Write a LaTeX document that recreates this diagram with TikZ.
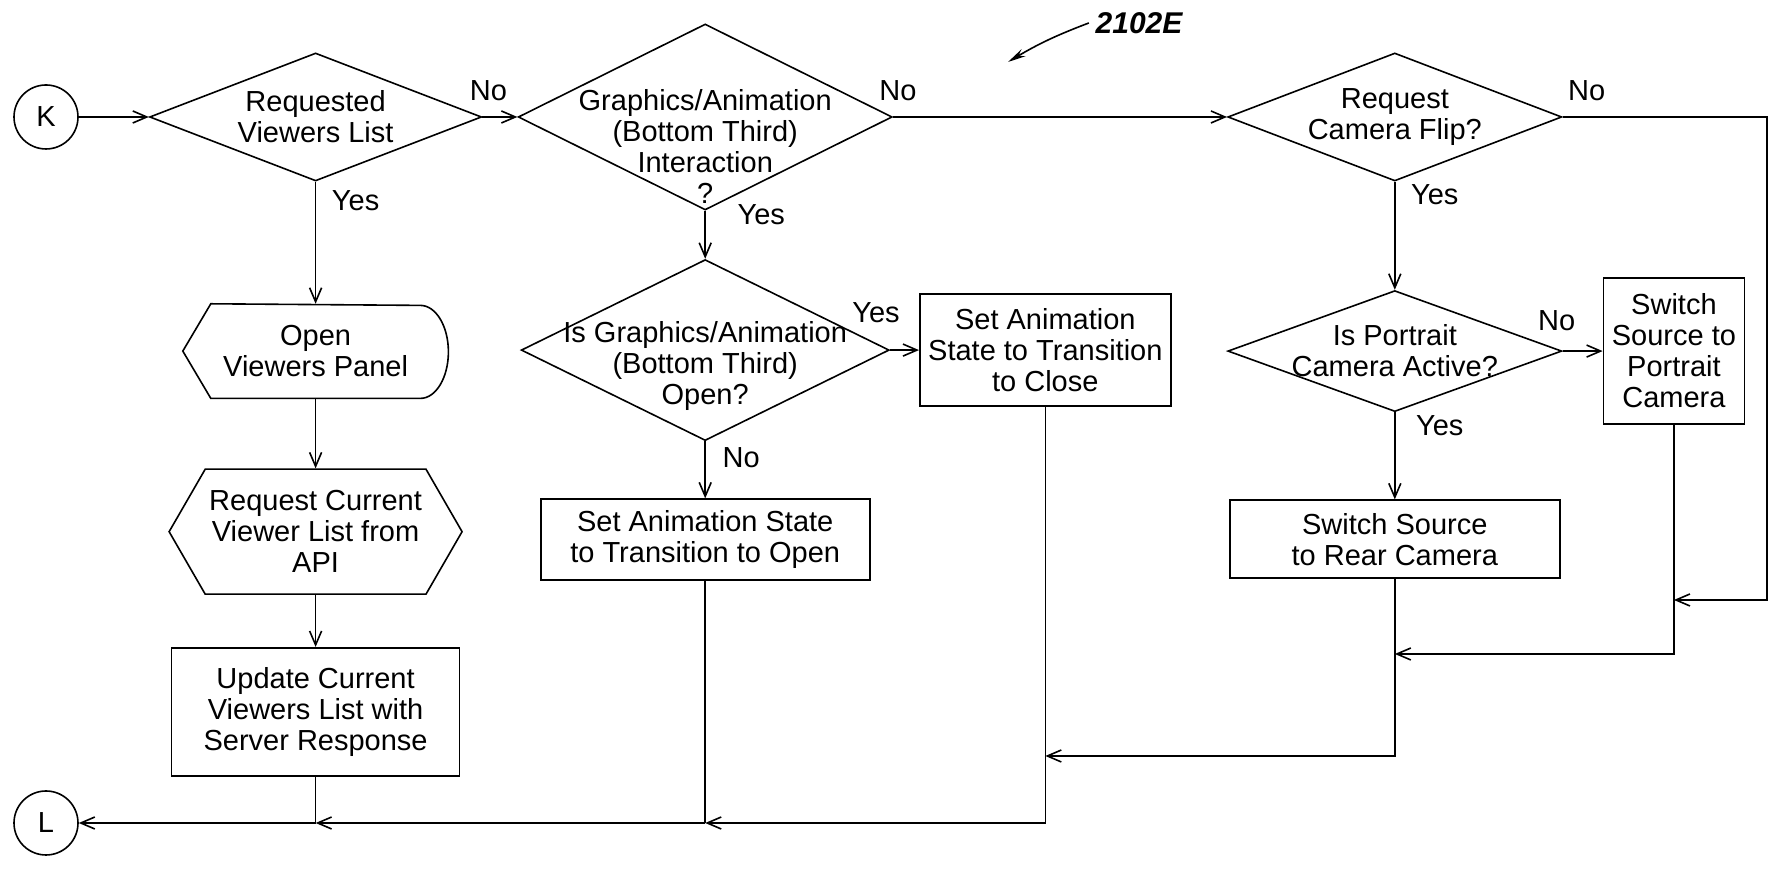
\documentclass[tikz,border=0pt]{standalone}
\usepackage{fontspec}
\setmainfont{Liberation Sans}
\usetikzlibrary{shapes.geometric, shapes.symbols, arrows.meta, positioning}

\begin{document}
\begin{tikzpicture}[x=0.5pt, y=0.5pt, line width=0.8pt,
        every node/.style={font=\fontsize{14.5}{15.5}\selectfont},
        dec/.style={diamond, draw, inner sep=0pt},
        proc/.style={draw, align=center, inner sep=2pt},
        hexa/.style={draw, signal, signal to=west and east, signal pointer angle=120,
            align=center, inner sep=2pt},
        pnl/.style={align=center, inner sep=0pt},
        term/.style={circle, draw, minimum size=32pt, inner sep=0pt},
        txt/.style={align=center, inner sep=0pt},
        lbl/.style={inner sep=0pt},
        flow/.style={-{Straight Barb[length=7pt,width=6pt]}}
    ]
        \useasboundingbox (0,0) rectangle (1775,870);

        \node[term] (k) at (46,753) {K};
        \node[dec, minimum width=166pt, minimum height=64pt, right=35pt of k] (reqList) {};
        \node[dec, minimum width=187pt, minimum height=93pt, right=17.5pt of reqList] (grafInt) {};
        \node[dec, minimum width=167pt, minimum height=64pt, right=167pt of grafInt] (camFlip) {};

        \node[txt] (reqListT) at (reqList) {Requested\\Viewers List};
        \node[txt, yshift=-15pt] (grafIntT) at (grafInt) {Graphics/Animation\\(Bottom Third)\\Interaction\\?};
        \node[txt] (camFlipT) at (camFlip) {Request\\Camera Flip?};

        \node[pnl, minimum width=132pt, minimum height=46.5pt, below=61pt of reqList] (openPanel) {Open\\Viewers Panel};
        \node[hexa, minimum width=142.5pt, minimum height=62.5pt, below=35pt of openPanel] (reqViewers) {Request Current\\Viewer List from\\API};
        \node[proc, minimum width=144pt, minimum height=64pt, below=26pt of reqViewers] (updViewers) {Update Current\\Viewers List with\\Server Response};
        \node[term] (l) at (k |- 0,47) {L};

        \node[dec, minimum width=184pt, minimum height=90.5pt, below=24pt of grafInt] (grafOpen) {};
        \node[txt, yshift=-8pt] (grafOpenT) at (grafOpen) {Is Graphics/Animation\\(Bottom Third)\\Open?};
        \node[proc, minimum width=125.5pt, minimum height=56pt, right=14.5pt of grafOpen] (setClose) {Set Animation\\State to Transition\\to Close};
        \node[proc, minimum width=164.5pt, minimum height=40.5pt, below=28.5pt of grafOpen] (setOpen) {Set Animation State\\to Transition to Open};

        \node[dec, minimum width=167pt, minimum height=60.5pt, below=54pt of camFlip] (portAct) {};
        \node[txt] (portActT) at (portAct) {Is Portrait\\Camera Active?};
        \node[proc, minimum width=70.5pt, minimum height=73pt, right=20pt of portAct] (swPort) {Switch\\Source to\\Portrait\\Camera};
        \node[proc, minimum width=165pt, minimum height=39pt, below=43.5pt of portAct] (swRear) {Switch Source\\to Rear Camera};

        \node[font=\bfseries\itshape\fontsize{15}{18}\selectfont, inner sep=0pt] (fig) at (1139,847) {2102E};
        \coordinate (figTip) at (1008,808);

        \node[lbl] (reqListNo) at ([shift={(3pt,13pt)}]reqList.east) {No};
        \node[lbl] (reqListYes) at ([shift={(20pt,-9.5pt)}]reqList.south) {Yes};
        \node[lbl] (grafIntNo) at ([shift={(2.5pt,13pt)}]grafInt.east) {No};
        \node[lbl] (grafIntYes) at ([shift={(28pt,-2pt)}]grafInt.south) {Yes};
        \node[lbl] (camFlipNo) at ([shift={(12pt,13pt)}]camFlip.east) {No};
        \node[lbl] (camFlipYes) at ([shift={(20pt,-6.5pt)}]camFlip.south) {Yes};
        \node[lbl] (grafOpenYes) at ([shift={(-7pt,18.5pt)}]grafOpen.east) {Yes};
        \node[lbl] (grafOpenNo) at ([shift={(18pt,-8pt)}]grafOpen.south) {No};
        \node[lbl] (portActNo) at ([shift={(-3pt,15pt)}]portAct.east) {No};
        \node[lbl] (portActYes) at ([shift={(22.5pt,-6.5pt)}]portAct.south) {Yes};

        \draw ([xshift=14pt]openPanel.north west) -- (openPanel.west) -- ([xshift=14pt]openPanel.south west)
            -- ([xshift=-14pt]openPanel.south east) arc[start angle=-90, end angle=90, x radius=14pt, y radius=23.25pt] -- cycle;

        \coordinate (cRight) at ([xshift=11pt]swPort.east |- camFlip.east);
        \coordinate (jPort) at (swPort.south |- 0,270);
        \coordinate (jRear) at (swRear.south |- 0,216);
        \coordinate (jClose) at (setClose.south |- 0,114);
        \coordinate (jOpen) at (setOpen.south |- l);
        \coordinate (jUpd) at (updViewers.south |- l);

        \draw[flow] (k) -- (reqList);
        \draw[flow] (reqList.east) -- (grafInt.west);
        \draw[flow] (grafInt.east) -- (camFlip.west);
        \draw[flow] (reqList.south) -- (openPanel.north);
        \draw[flow] (openPanel.south) -- (reqViewers.north);
        \draw[flow] (reqViewers.south) -- (updViewers.north);
        \draw[flow] (grafInt.south) -- (grafOpen.north);
        \draw[flow] (grafOpen.east) -- (setClose.west);
        \draw[flow] (grafOpen.south) -- (setOpen.north);
        \draw[flow] (camFlip.south) -- (portAct.north);
        \draw[flow] (portAct.east) -- (swPort.west);
        \draw[flow] (portAct.south) -- (swRear.north);

        \draw[flow] (camFlip.east) -- (cRight) |- (jPort);
        \draw[flow] (swPort.south) |- (jRear);
        \draw[flow] (swRear.south) |- (jClose);
        \draw[flow] (setClose.south) |- (jOpen);
        \draw (setOpen.south) -- (jOpen);
        \draw[flow] (jOpen) -- (jUpd);
        \draw (updViewers.south) -- (jUpd);
        \draw[flow] (jUpd) -- (l);

        \draw[-{Stealth[length=9pt,width=4pt]}] ([xshift=-3pt]fig.west) to[bend right=5] (figTip);
    \end{tikzpicture}
\end{document}
